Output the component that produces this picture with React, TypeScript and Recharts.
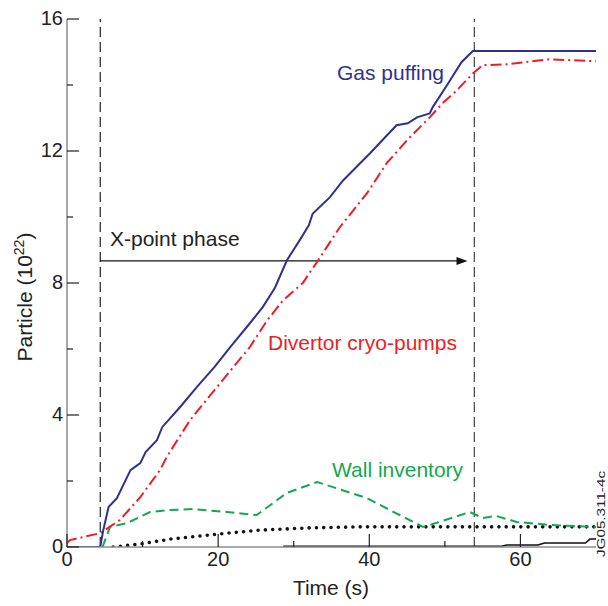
import React from "react";
import {
  ComposedChart,
  Line,
  XAxis,
  YAxis,
  ReferenceLine,
} from "recharts";

// time axis (s) and particle count (10^22)
const gasTime = [0, 4.4, 4.8, 5.5, 6.6, 8.4, 9.7, 10.4, 11.9, 12.6, 15.0, 17.2, 19.5, 21.6, 24.2, 25.9, 27.5, 29.1, 30.8, 32.0, 32.5, 34.8, 36.5, 40.1, 43.6, 45.1, 46.3, 48.0, 48.4, 50.3, 52.2, 53.7, 70];
const gasValue = [0, 0, 0.51, 1.21, 1.48, 2.33, 2.54, 2.88, 3.24, 3.63, 4.25, 4.85, 5.45, 6.06, 6.78, 7.27, 7.85, 8.69, 9.3, 9.75, 10.1, 10.6, 11.1, 11.93, 12.78, 12.84, 13.02, 13.14, 13.33, 14.0, 14.69, 15.03, 15.03];

const pumpTime = [0, 0.4, 4.4, 7.0, 9.7, 12.3, 13.2, 16.3, 20.6, 24.2, 26.5, 28.6, 31.2, 33.5, 36.1, 39.7, 42.3, 45.0, 48.0, 49.7, 51.6, 53.7, 55.0, 58.2, 63.8, 70];
const pumpValue = [0.12, 0.21, 0.42, 0.82, 1.51, 2.33, 2.73, 3.85, 5.06, 6.06, 6.87, 7.48, 8.0, 8.78, 9.69, 10.72, 11.63, 12.33, 13.02, 13.45, 13.84, 14.35, 14.6, 14.63, 14.78, 14.72];

const wallTime = [4.7, 5.7, 8.0, 11.0, 13.6, 16.7, 21.2, 25.1, 29.1, 33.1, 39.7, 44.0, 47.1, 49.3, 53.3, 55.0, 56.8, 59.5, 63.8, 69.4, 70];
const wallValue = [0, 0.61, 0.73, 1.06, 1.12, 1.15, 1.06, 0.97, 1.64, 1.97, 1.48, 0.97, 0.61, 0.76, 1.06, 0.88, 0.94, 0.76, 0.67, 0.61, 0.6];

const otherTime = [6.1, 9.7, 13.7, 19.9, 25.5, 32.1, 38.7, 70];
const otherValue = [0, 0.09, 0.24, 0.39, 0.51, 0.58, 0.61, 0.61];

const restTime = [28.6, 57.5, 58.2, 62.3, 63.2, 68.6, 69.2, 70];
const restValue = [0.02, 0.02, 0.06, 0.06, 0.12, 0.12, 0.24, 0.24];

const phaseStart = 4.4;
const phaseEnd = 53.9;
const arrowEnd = 53.0;
const arrowLevel = 8.67;

const xTicks = [0, 10, 20, 30, 40, 50, 60, 70];
const yTicks = [0, 2, 4, 6, 8, 10, 12, 14, 16];

const toPoints = (t: number[], v: number[]) => t.map((time, i) => ({ time, value: v[i] }));

const FONT = "'Liberation Sans', Arial, sans-serif";
const BLUE = "#2e3192";
const RED = "#ee1c25";
const GREEN = "#13a84f";
const AXIS = "#8c8c8c";

const YTick = ({ x, y, payload }: any) => {
  const v = payload.value;
  const major = v % 4 === 0;
  const ax = x + 4;
  return (
    <g>
      <line x1={ax} x2={ax + (major ? 12 : 6)} y1={y} y2={y} stroke="#222" strokeWidth={1.2} />
      {major && (
        <text x={x} y={y} dy="0.3em" textAnchor="end" fontSize={20} fill="#222" fontFamily={FONT}>
          {v}
        </text>
      )}
    </g>
  );
};

const XTick = ({ x, y, payload }: any) => {
  const v = payload.value;
  if (v === 70) return null;
  const major = v % 20 === 0;
  const ay = y - 5;
  return (
    <g>
      <line x1={x} x2={x} y1={ay} y2={ay - (major ? 13 : 6)} stroke="#222" strokeWidth={1.2} />
      {major && (
        <text x={x} y={y} dy="0.71em" textAnchor="middle" fontSize={20} fill="#222" fontFamily={FONT}>
          {v}
        </text>
      )}
    </g>
  );
};

const Arrow = (props: any) => {
  const { x1, y1, x2, y2 } = props;
  return (
    <g>
      <line x1={x1} y1={y1} x2={x2 - 8} y2={y2} stroke="#111" strokeWidth={1.3} />
      <polygon points={`${x2},${y2} ${x2 - 11},${y2 - 4} ${x2 - 11},${y2 + 4}`} fill="#111" />
    </g>
  );
};

export default function App() {
  return (
    <div style={{ position: "absolute", left: 0, top: 0, width: 608, height: 606, background: "#fff" }}>
      <ComposedChart
        width={608}
        height={606}
        margin={{ top: 19, right: 12, bottom: 29, left: 27 }}
      >
        <XAxis
          dataKey="time"
          type="number"
          domain={[0, 70]}
          ticks={xTicks}
          interval={0}
          allowDataOverflow
          height={30}
          tickSize={0}
          tickMargin={5}
          tickLine={false}
          tick={<XTick />}
          axisLine={{ stroke: AXIS, strokeWidth: 1.5 }}
        />
        <XAxis
          xAxisId="top"
          orientation="top"
          type="number"
          domain={[0, 70]}
          height={0}
          tick={false}
          tickLine={false}
          axisLine={{ stroke: "#111", strokeWidth: 1.3 }}
        />
        <YAxis
          type="number"
          domain={[0, 16]}
          ticks={yTicks}
          interval={0}
          allowDataOverflow
          width={40}
          tickSize={0}
          tickMargin={4}
          tickLine={false}
          tick={<YTick />}
          axisLine={{ stroke: AXIS, strokeWidth: 1.5 }}
        />
        <YAxis
          yAxisId="right"
          orientation="right"
          type="number"
          domain={[0, 16]}
          width={0}
          tick={false}
          tickLine={false}
          axisLine={{ stroke: AXIS, strokeWidth: 1.5 }}
        />

        <ReferenceLine x={phaseStart} stroke="#222" strokeWidth={1.2} strokeDasharray="10 5" />
        <ReferenceLine x={phaseEnd} stroke="#444" strokeWidth={1.2} strokeDasharray="10 5" />
        <ReferenceLine
          segment={[
            { x: phaseStart, y: arrowLevel },
            { x: arrowEnd, y: arrowLevel },
          ]}
          shape={<Arrow />}
        />

        <Line
          data={toPoints(restTime, restValue)}
          dataKey="value"
          type="linear"
          stroke="#111"
          strokeWidth={1.5}
          dot={false}
          isAnimationActive={false}
        />
        <Line
          data={toPoints(otherTime, otherValue)}
          dataKey="value"
          type="linear"
          stroke="#111"
          strokeWidth={3.6}
          strokeDasharray="0 7.3"
          strokeLinecap="round"
          dot={false}
          isAnimationActive={false}
        />
        <Line
          data={toPoints(wallTime, wallValue)}
          dataKey="value"
          type="linear"
          stroke={GREEN}
          strokeWidth={2}
          strokeDasharray="9 5"
          dot={false}
          isAnimationActive={false}
        />
        <Line
          data={toPoints(pumpTime, pumpValue)}
          dataKey="value"
          type="linear"
          stroke={RED}
          strokeWidth={2}
          strokeDasharray="11 4 2 4"
          dot={false}
          isAnimationActive={false}
        />
        <Line
          data={toPoints(gasTime, gasValue)}
          dataKey="value"
          type="linear"
          stroke={BLUE}
          strokeWidth={2}
          dot={false}
          isAnimationActive={false}
        />
      </ComposedChart>

      <svg
        width={608}
        height={606}
        style={{ position: "absolute", left: 0, top: 0, pointerEvents: "none" }}
        fontFamily={FONT}
      >
        <text x={337} y={80} fontSize={21} fill={BLUE}>Gas puffing</text>
        <text x={110} y={246} fontSize={21} fill="#222">X-point phase</text>
        <text x={268} y={350} fontSize={21} fill={RED}>Divertor cryo-pumps</text>
        <text x={332} y={477} fontSize={21} fill={GREEN}>Wall inventory</text>
        <text x={331} y={595} fontSize={21} fill="#222" textAnchor="middle">Time (s)</text>
        <text
          x={32}
          y={297}
          fontSize={21}
          fill="#222"
          textAnchor="middle"
          transform="rotate(-90, 32, 297)"
        >
          Particle (10<tspan dy={-8} fontSize={14}>22</tspan>
          <tspan dy={8}>)</tspan>
        </text>
        <text
          x={605}
          y={514}
          fontSize={10}
          fill="#222"
          textAnchor="middle"
          textLength={86}
          lengthAdjust="spacingAndGlyphs"
          transform="rotate(-90, 605, 514)"
        >
          JG05.311-4c
        </text>
      </svg>
    </div>
  );
}
